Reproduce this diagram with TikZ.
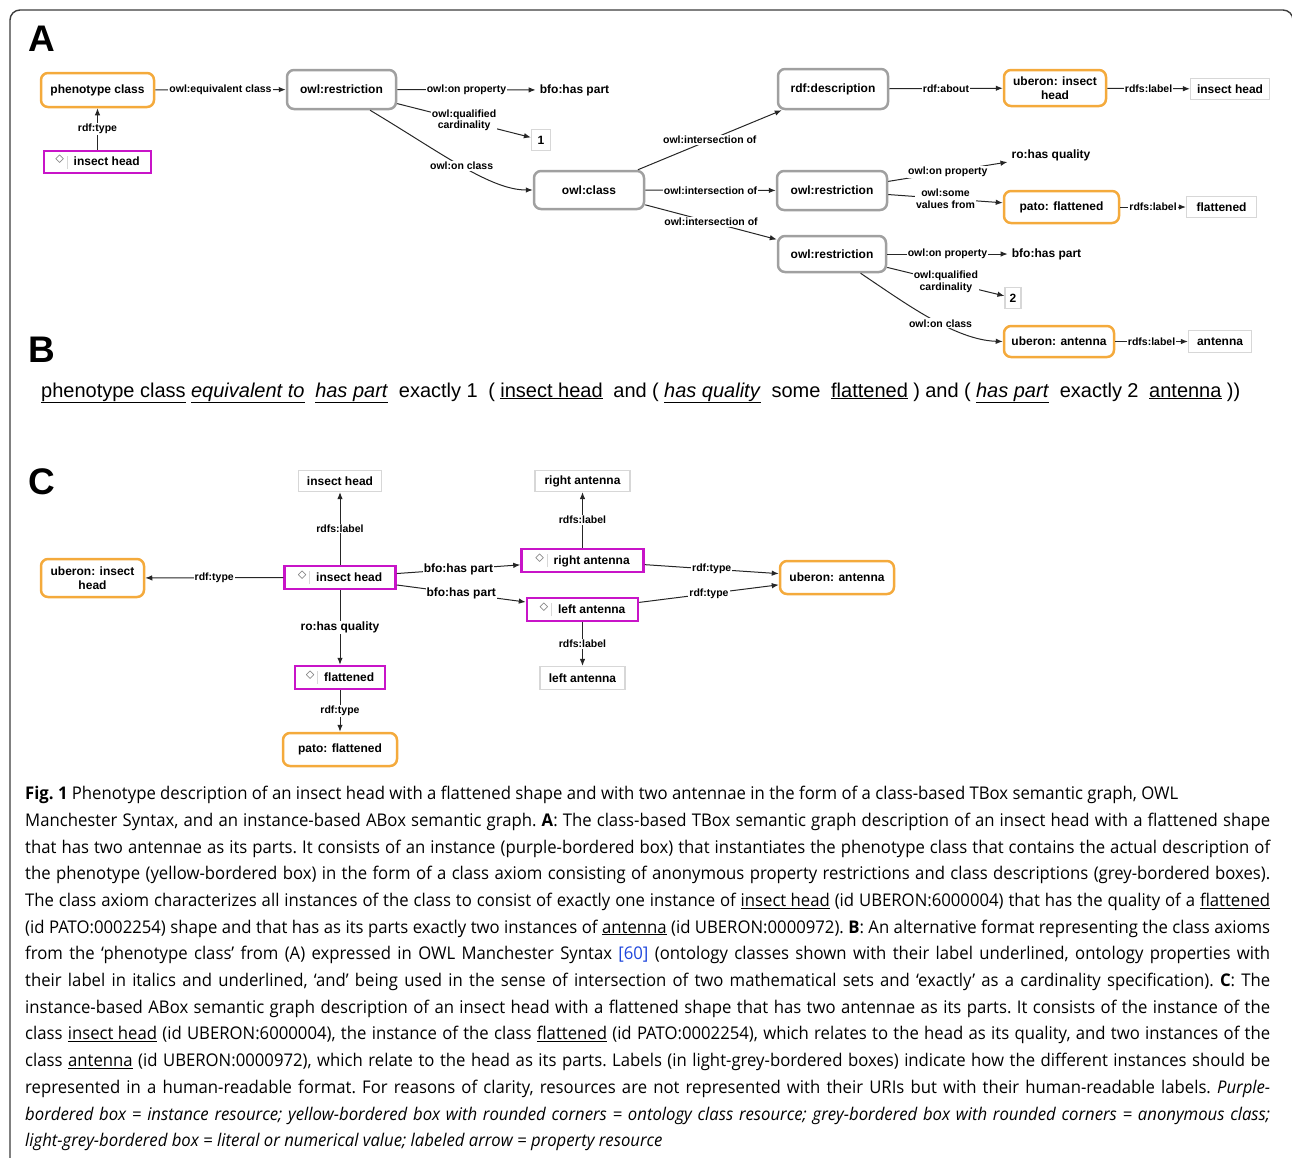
\documentclass[tikz,border=0pt]{standalone}
\usepackage{fontspec}
\setmainfont{Liberation Sans}
\newfontfamily\capfont[FakeStretch=0.955]{Open Sans}
\usetikzlibrary{arrows.meta}

\definecolor{clsorange}{RGB}{244,170,60}
\definecolor{anongray}{RGB}{160,160,160}
\definecolor{instpurple}{RGB}{200,20,200}
\definecolor{litgray}{RGB}{215,215,215}
\definecolor{icongray}{RGB}{110,110,110}
\definecolor{framegray}{RGB}{60,60,60}
\definecolor{reflink}{RGB}{30,70,220}

\newcommand{\nodefont}{\fontsize{12}{13.5}\selectfont\bfseries}
\newcommand{\lblfont}{\fontsize{10.5}{11.5}\selectfont\bfseries}
\newcommand{\uln}[1]{\underline{#1}}
\newcommand{\instlbl}[1]{\raisebox{2pt}{\textcolor{icongray}{\fontsize{19}{19}\selectfont$\diamond$}}\hspace{3pt}\textcolor{litgray}{\vrule width 0.8pt height 10pt depth 3pt}\hspace{6pt}#1}

\tikzset{
  cls/.style={draw=clsorange, line width=2.5pt, rounded corners=7pt, fill=white, font=\nodefont, align=center, inner sep=2pt},
  anon/.style={draw=anongray, line width=2.5pt, rounded corners=7pt, fill=white, font=\nodefont, inner sep=2pt},
  inst/.style={draw=instpurple, line width=2.5pt, fill=white, font=\nodefont, inner sep=2pt},
  lit/.style={draw=litgray, line width=1.2pt, fill=white, font=\nodefont, inner sep=2pt},
  term/.style={font=\nodefont, inner sep=4pt},
  rel/.style={draw=black!85, line width=1pt, -{Latex[length=7pt,width=5.5pt]}},
  lbl/.style={fill=white, inner sep=1pt, font=\lblfont, align=center},
  biglbl/.style={lbl, font=\nodefont},
  panel/.style={font=\fontsize{37}{40}\selectfont\bfseries},
}

\begin{document}
\begin{tikzpicture}[x=1pt, y=-1pt]
\useasboundingbox (0,0) rectangle (1292,1157);
\draw[framegray, line width=1.4pt, rounded corners=10pt] (10,1160) -- (10,10) -- (1293,10) -- (1293,1160);

% A: class-based TBox graph
\node[panel] (pA) at (41.5,38.5) {A};
\node[cls, minimum width=113pt, minimum height=34pt] (pheno) at (97.5,90) {phenotype class};
\node[inst, minimum width=107pt, minimum height=22pt] (headA) at (97.5,162) {\instlbl{insect head}};
\node[anon, minimum width=109pt, minimum height=39pt] (restrA) at (341.5,89.5) {owl:restriction};
\node[term] (partA) at (574.5,90) {bfo:has part};
\node[lit, minimum width=19pt, minimum height=21pt] (one) at (541,140) {1};
\node[anon, minimum width=110pt, minimum height=38pt] (owlcls) at (589,190) {owl:class};
\node[anon, minimum width=110pt, minimum height=40pt] (descr) at (833,89) {rdf:description};
\node[anon, minimum width=110pt, minimum height=39pt] (restrB) at (832,190.5) {owl:restriction};
\node[anon, minimum width=108pt, minimum height=36pt] (restrC) at (832,254) {owl:restriction};
\node[cls, minimum width=102pt, minimum height=36pt] (uhead) at (1055,88) {uberon: insect\\head};
\node[lit, minimum width=79pt, minimum height=21pt] (headlbl) at (1230,89) {insect head};
\node[term] (quality) at (1051,155) {ro:has quality};
\node[cls, minimum width=115pt, minimum height=32pt] (pato) at (1061.5,207) {pato: flattened};
\node[lit, minimum width=70pt, minimum height=21pt] (flatlbl) at (1221.5,207) {flattened};
\node[term] (partC) at (1046.5,254) {bfo:has part};
\node[lit, minimum width=16pt, minimum height=21pt] (two) at (1013,298) {2};
\node[cls, minimum width=110pt, minimum height=31pt] (uant) at (1059,341.5) {uberon: antenna};
\node[lit, minimum width=63pt, minimum height=22pt] (antlbl) at (1220,341.5) {antenna};

\draw[rel] (headA) -- node[lbl] {rdf:type} (pheno);
\draw[rel] (pheno) -- node[lbl] {owl:equivalent class} (restrA);
\draw[rel] (restrA) -- node[lbl] {owl:on property} (partA);
\draw[rel] (restrA) -- node[lbl] {owl:qualified\\cardinality} (one);
\draw[rel] (restrA.-36) .. controls (440,152) and (490,190) .. node[lbl] {owl:on class} (owlcls.west);
\draw[rel] (owlcls) -- node[lbl] {owl:intersection of} (descr);
\draw[rel] (owlcls) -- node[lbl] {owl:intersection of} (restrB);
\draw[rel] (owlcls) -- node[lbl] {owl:intersection of} (restrC);
\draw[rel] (descr) -- node[lbl] {rdf:about} (uhead);
\draw[rel] (uhead) -- node[lbl] {rdfs:label} (headlbl);
\draw[rel] (restrB) -- node[lbl] {owl:on property} (quality);
\draw[rel] (restrB) -- node[lbl] {owl:some\\values from} (pato);
\draw[rel] (pato) -- node[lbl] {rdfs:label} (flatlbl);
\draw[rel] (restrC) -- node[lbl] {owl:on property} (partC);
\draw[rel] (restrC) -- node[lbl] {owl:qualified\\cardinality} (two);
\draw[rel] (restrC.-34) .. controls (905,303) and (955,340) .. node[lbl, pos=0.57] {owl:on class} (uant.west);
\draw[rel] (uant) -- node[lbl] {rdfs:label} (antlbl);

% B: Manchester syntax
\node[panel] (pB) at (41.5,350) {B};
\node[anchor=base west, inner sep=0pt, font=\fontsize{20}{24}\selectfont] (manchester) at (41,397) {\makebox[1199pt][s]{\uln{phenotype class} \uln{\textit{equivalent to}}\ \ \uln{\textit{has part}}\ \ exactly 1\ \ (\ \uln{insect head}\ \ and ( \uln{\textit{has quality}}\ \ some\ \ \uln{flattened} ) and ( \uln{\textit{has part}}\ \ exactly 2\ \ \uln{antenna} ))}};

% C: instance-based ABox graph
\node[panel] (pC) at (42,482) {C};
\node[lit, minimum width=83pt, minimum height=21pt] (headlblC) at (340,481) {insect head};
\node[lit, minimum width=95pt, minimum height=21pt] (ralbl) at (582.5,481) {right antenna};
\node[cls, minimum width=103pt, minimum height=38pt] (uheadC) at (92.5,578) {uberon: insect\\head};
\node[inst, minimum width=111pt, minimum height=23pt] (headC) at (340,577.5) {\instlbl{insect head}};
\node[inst, minimum width=122pt, minimum height=23pt] (rant) at (582.5,560.5) {\instlbl{right antenna}};
\node[inst, minimum width=111pt, minimum height=23pt] (lant) at (582.5,609.5) {\instlbl{left antenna}};
\node[cls, minimum width=114pt, minimum height=33pt] (uantC) at (837,577.5) {uberon: antenna};
\node[inst, minimum width=90pt, minimum height=23pt] (flat) at (340,677.5) {\instlbl{flattened}};
\node[lit, minimum width=85pt, minimum height=23pt] (lalbl) at (582.5,678) {left antenna};
\node[cls, minimum width=114pt, minimum height=33pt] (patoC) at (340,749.5) {pato: flattened};

\draw[rel] (headC) -- node[lbl] {rdfs:label} (headlblC);
\draw[rel] (headC) -- node[lbl] {rdf:type} (uheadC);
\draw[rel] (headC) -- node[biglbl] {bfo:has part} (rant);
\draw[rel] (headC) -- node[biglbl] {bfo:has part} (lant);
\draw[rel] (headC) -- node[biglbl] {ro:has quality} (flat);
\draw[rel] (flat) -- node[lbl] {rdf:type} (patoC);
\draw[rel] (rant) -- node[lbl] {rdfs:label} (ralbl);
\draw[rel] (lant) -- node[lbl] {rdfs:label} (lalbl);
\draw[rel] (rant) -- node[lbl] {rdf:type} (uantC);
\draw[rel] (lant) -- node[lbl] {rdf:type} (uantC);

% caption
\node[anchor=north west, inner sep=0pt, text width=1245pt, align=justify, font=\capfont\fontsize{17.5}{26.7}\selectfont] (caption) at (25,786) {\hyphenpenalty=10000\frenchspacing
\textbf{Fig. 1} Phenotype description of an insect head with a flattened shape and with two antennae in the form of a class-based TBox semantic graph, OWL\\
Manchester Syntax, and an instance-based ABox semantic graph. \textbf{A}: The class-based TBox semantic graph description of an insect head with a flattened shape\linebreak
that has two antennae as its parts. It consists of an instance (purple-bordered box) that instantiates the phenotype class that contains the actual description of\linebreak
the phenotype (yellow-bordered box) in the form of a class axiom consisting of anonymous property restrictions and class descriptions (grey-bordered boxes).\linebreak
The class axiom characterizes all instances of the class to consist of exactly one instance of \uln{insect head} (id UBERON:6000004) that has the quality of a \uln{flattened}\linebreak
(id PATO:0002254) shape and that has as its parts exactly two instances of \uln{antenna} (id UBERON:0000972). \textbf{B}: An alternative format representing the class axioms\linebreak
from the ‘phenotype class’ from (A) expressed in OWL Manchester Syntax \textcolor{reflink}{[60]} (ontology classes shown with their label underlined, ontology properties with\linebreak
their label in italics and underlined, ‘and’ being used in the sense of intersection of two mathematical sets and ‘exactly’ as a cardinality specification). \textbf{C}: The\linebreak
instance-based ABox semantic graph description of an insect head with a flattened shape that has two antennae as its parts. It consists of the instance of the\linebreak
class \uln{insect head} (id UBERON:6000004), the instance of the class \uln{flattened} (id PATO:0002254), which relates to the head as its quality, and two instances of the\linebreak
class \uln{antenna} (id UBERON:0000972), which relate to the head as its parts. Labels (in light-grey-bordered boxes) indicate how the different instances should be\linebreak
represented in a human-readable format. For reasons of clarity, resources are not represented with their URIs but with their human-readable labels. \textit{Purple-}\linebreak
\textit{bordered box = instance resource; yellow-bordered box with rounded corners = ontology class resource; grey-bordered box with rounded corners = anonymous class;}\linebreak
\textit{light-grey-bordered box = literal or numerical value; labeled arrow = property resource}};
\end{tikzpicture}
\end{document}
